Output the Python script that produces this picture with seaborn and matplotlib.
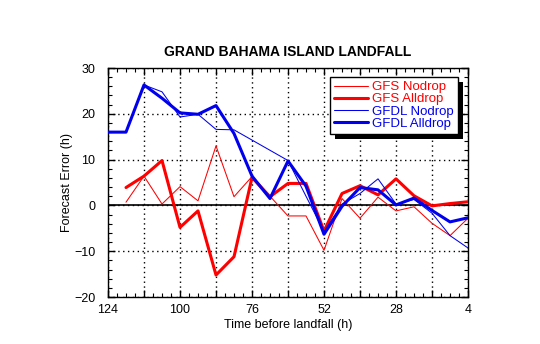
import numpy as np
import pandas as pd
import matplotlib
matplotlib.use("Agg")
import matplotlib.pyplot as plt
import seaborn as sns
from matplotlib.patches import Rectangle
from matplotlib.ticker import FixedLocator, FuncFormatter

# Forecast error (h) of landfall timing versus lead time before landfall
hours = [124, 118, 112, 106, 100, 94, 88, 82, 76, 70, 64, 58, 52, 46, 40, 34, 28, 22, 16, 10, 4]
nan = np.nan
gfs_nodrop = [nan, 0.7, 6.4, 0.3, 4.1, 1.0, 13.0, 1.9, 6.3, nan, -2.3, -2.3, -9.8,
              1.5, -2.8, 1.8, -1.2, -0.3, -3.9, -6.6, -2.8]
gfs_alldrop = [nan, 3.9, 6.4, 9.8, -4.8, -1.2, -15.2, -11.2, 6.1, 1.9, 4.8, 4.8, -5.6,
               2.6, 4.3, 2.3, 5.8, 2.1, -0.1, 0.4, 0.8]
gfdl_nodrop = [16.0, 16.0, 26.3, 24.8, 19.3, 19.9, 16.6, 16.5, nan, nan, 9.8, 2.0, -5.7,
               0.3, 2.6, 5.8, 0.3, 1.3, -1.7, -6.6, -9.3]
gfdl_alldrop = [16.0, 16.0, 26.3, 23.4, 20.2, 19.9, 21.8, 15.7, 6.4, 1.5, 9.7, 4.2, -6.3,
                -0.2, 3.9, 3.4, 0.1, 1.6, -1.1, -3.6, -2.7]

series_names = ["GFS Nodrop", "GFS Alldrop", "GFDL Nodrop", "GFDL Alldrop"]
series_values = [gfs_nodrop, gfs_alldrop, gfdl_nodrop, gfdl_alldrop]
series_colors = ["#ff0000", "#ff0000", "#0000ee", "#0000ee"]
series_widths = [0.75, 2.2, 0.75, 2.2]

sns.set_style("ticks")
plt.rcParams["font.family"] = ["Liberation Sans", "DejaVu Sans"]
plt.rcParams["text.color"] = "black"
plt.rcParams["axes.labelcolor"] = "black"
plt.rcParams["xtick.color"] = "black"
plt.rcParams["ytick.color"] = "black"

fig = plt.figure(figsize=(5.4, 3.44), dpi=100)
ax = fig.add_axes([0.2, 0.1366, 0.6667, 0.6657])

for name, vals, color, lw in zip(series_names, series_values, series_colors, series_widths):
    df = pd.DataFrame({"hours": hours, "error": vals}).dropna()
    sns.lineplot(data=df, x="hours", y="error", color=color, linewidth=lw,
                 label=name, ax=ax, sort=False, estimator=None, zorder=3)

ax.axhline(0, color="black", linewidth=1.2, zorder=2)

ax.set_xlim(124, 4)
ax.set_ylim(-20, 30)

ax.xaxis.set_major_locator(FixedLocator(np.arange(4, 125, 12)))
ax.xaxis.set_minor_locator(FixedLocator(np.arange(4, 125, 3)))
ax.xaxis.set_major_formatter(FuncFormatter(lambda v, p: f"{int(round(v))}" if int(round(v - 4)) % 24 == 0 else ""))
ax.yaxis.set_major_locator(FixedLocator(np.arange(-20, 31, 10)))
ax.yaxis.set_minor_locator(FixedLocator(np.arange(-20, 31, 2)))

ax.grid(True, which="major", linestyle=(0, (1, 2.5)), color="black", linewidth=1.0)
ax.tick_params(which="both", direction="in", top=True, right=True, colors="black",
               labelsize=9)
ax.tick_params(which="major", length=5, width=1)
ax.tick_params(which="minor", length=3, width=0.8)
ax.tick_params(axis="y", pad=9)
ax.tick_params(axis="x", pad=5)
for sp in ax.spines.values():
    sp.set_color("black")
    sp.set_linewidth(1.0)

ax.set_xlabel("Time before landfall (h)", fontsize=9, labelpad=2)
ax.set_ylabel("Forecast Error (h)", fontsize=9, labelpad=1)
ax.set_title("GRAND BAHAMA ISLAND LANDFALL", fontweight="bold", fontsize=10, pad=9)

leg = ax.legend(loc="upper right", bbox_to_anchor=(0.972, 0.961), frameon=True, fancybox=False,
                edgecolor="black", framealpha=1, shadow=False,
                labelcolor="linecolor", fontsize=9.5, handlelength=2.6, labelspacing=0.0,
                borderpad=0.3, handletextpad=0.3, borderaxespad=0)
leg.set_zorder(10)

# solid black drop shadow offset down-right behind the legend box
fig.canvas.draw()
bb = leg.get_window_extent()
shadow = Rectangle((bb.x0 + 5, bb.y0 - 5), bb.width, bb.height, transform=None,
                   facecolor="black", edgecolor="none", zorder=9)
ax.add_artist(shadow)

fig.savefig("out.png", dpi=100)
